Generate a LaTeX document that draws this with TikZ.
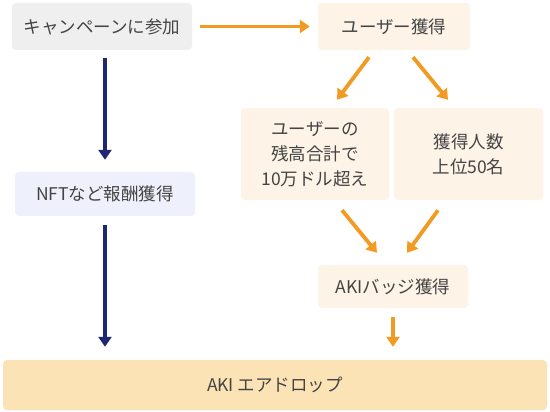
\documentclass[tikz,border=0pt]{standalone}
\usepackage{fontspec}
\setmainfont{Noto Sans CJK JP}
\usetikzlibrary{arrows.meta,calc}
\definecolor{txt}{HTML}{444444}
\definecolor{grayfill}{HTML}{EFEFEF}
\definecolor{orfill}{HTML}{FDF3E7}
\definecolor{lavfill}{HTML}{EEF0FB}
\definecolor{botfill}{HTML}{FCE3B5}
\definecolor{orarrow}{HTML}{F39A22}
\definecolor{navy}{HTML}{1E2870}
\tikzset{
  box/.style={rounded corners=4pt, text=txt, font=\fontsize{17.5}{25}\selectfont, align=center, inner sep=0pt},
  oarr/.style={line width=3.8pt, draw=orarrow, -{Triangle[width=13pt,length=10pt]},
    preaction={draw=white, line width=6pt, -{Triangle[width=17pt,length=12pt]}}},
  narr/.style={line width=3.8pt, draw=navy, -{Triangle[width=13pt,length=10pt]},
    preaction={draw=white, line width=6pt, -{Triangle[width=17pt,length=12pt]}}},
}
\begin{document}
\begin{tikzpicture}[x=1pt,y=-1pt]
\useasboundingbox (0,0) rectangle (550,412);
\fill[white] (0,0) rectangle (550,412);
\node[box, fill=grayfill, minimum width=180pt, minimum height=47pt] (camp) at (102,26.5) {キャンペーンに参加};
\node[box, fill=orfill, minimum width=152pt, minimum height=47pt] (user) at (394,26.5) {ユーザー獲得};
\node[box, fill=lavfill, minimum width=180pt, minimum height=44pt] (nft) at (105,194) {NFTなど報酬獲得};
\node[box, fill=orfill, minimum width=148pt, minimum height=92pt] (bal) at (315,154) {ユーザーの\\残高合計で\\10万ドル超え};
\node[box, fill=orfill, minimum width=149pt, minimum height=92pt] (top) at (468.5,154) {獲得人数\\上位50名};
\node[box, fill=orfill, minimum width=150pt, minimum height=43pt] (badge) at (393,286.5) {AKIバッジ獲得};
\node[box, fill=botfill, minimum width=544pt, minimum height=50pt] (air) at (275,385) {AKI エアドロップ};

\draw[oarr, shorten <=8pt, shorten >=8pt] (camp.east |- user.west) -- (user.west);
\draw[oarr] ($(user.south)+(-25,7)$) -- ($(bal.north)+(22,-8)$);
\draw[oarr] ($(user.south)+(19,7)$) -- ($(top.north)+(-20.5,-8)$);
\draw[oarr] ($(bal.south)+(27,10)$) -- ($(badge.north)+(-16,-12)$);
\draw[oarr] ($(top.south)+(-30.5,10)$) -- ($(badge.north)+(14,-12)$);
\draw[oarr, shorten <=9pt, shorten >=13pt] (badge.south) -- (badge.south |- air.north);
\draw[narr, shorten <=8pt, shorten >=12pt] (nft.north |- camp.south) -- (nft.north);
\draw[narr, shorten <=9pt, shorten >=13pt] (nft.south) -- (nft.south |- air.north);
\end{tikzpicture}
\end{document}
